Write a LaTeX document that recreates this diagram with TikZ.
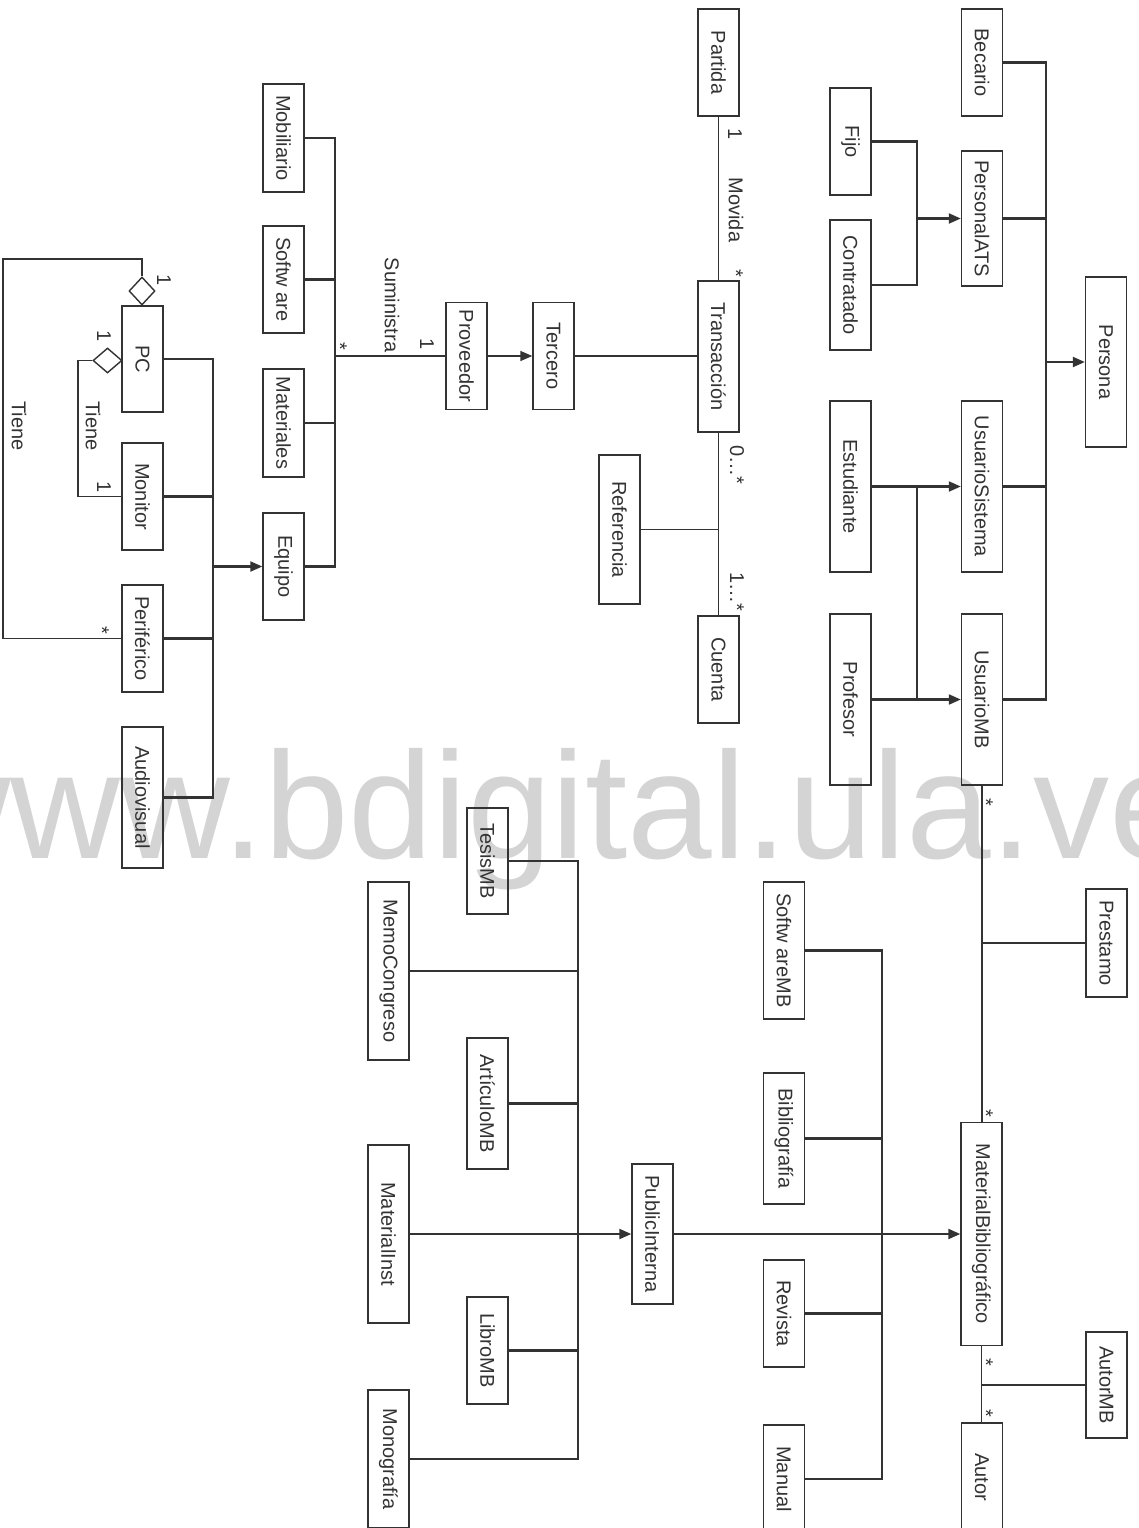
\documentclass[tikz,border=0pt]{standalone}
\usepackage{fontspec}
\setmainfont{Liberation Sans}
\usetikzlibrary{arrows.meta,shapes.geometric}
\definecolor{lc}{HTML}{333333}
\definecolor{wmc}{HTML}{D4D4D4}
\newcommand\mkbox[5]{\node[box,minimum height=#4pt] (#1) at (#2,#3) {\rotatebox{-90}{#5}};}
\newcommand\mklab[4]{\node[lab] (#1) at (#2,#3) {\rotatebox{-90}{#4}};}
\begin{document}
\begin{tikzpicture}[x=1pt,y=-1pt,
  box/.style={draw=lc,line width=1.4pt,minimum width=41pt,inner sep=0pt,text=lc,font=\fontsize{20}{20}\selectfont},
  lab/.style={inner sep=0pt,text=lc,font=\fontsize{20}{20}\selectfont},
  gen/.style={draw=lc,line width=2.1pt},
  assoc/.style={draw=lc,line width=1.5pt},
  tri/.style={-{Triangle[length=12pt,width=10pt]}},
  dia/.style={diamond,draw=lc,line width=1.4pt,inner sep=0pt}]
\useasboundingbox (0,0) rectangle (1139,1528);
% watermark
\node[anchor=base west,inner sep=0pt,text=wmc,font=\fontsize{152}{152}\selectfont] (wm) at (-99,858) {www.bdigital.ula.ve};

% ---- equipment group
\mkbox{mob}{283.5}{138}{108}{Mobiliario}
\mkbox{soft}{283.5}{279.5}{107}{Softw are}
\mkbox{mat}{283.5}{423}{108}{Materiales}
\mkbox{equipo}{283.5}{566.5}{107}{Equipo}
\mkbox{pc}{142.5}{359}{106}{PC}
\mkbox{monitor}{142.5}{496.5}{107}{Monitor}
\mkbox{perif}{142.5}{638.5}{107}{Periférico}
\mkbox{audio}{142.5}{797.5}{141}{Audiovisual}
\mkbox{prov}{466.5}{356}{107}{Proveedor}
\mkbox{tercero}{553.5}{356}{107}{Tercero}
\mkbox{trans}{718.5}{356.5}{151}{Transacción}
\mkbox{partida}{718.5}{62.5}{107}{Partida}
\mkbox{cuenta}{718.5}{669.5}{107}{Cuenta}
\mkbox{refer}{619.5}{529.5}{149}{Referencia}
% ---- person group
\mkbox{becario}{982}{62.5}{107}{Becario}
\mkbox{pats}{982}{218.5}{135}{PersonalATS}
\mkbox{fijo}{850.5}{141.5}{107}{Fijo}
\mkbox{contr}{850.5}{285}{130}{Contratado}
\mkbox{persona}{1106}{362}{170}{Persona}
\mkbox{usis}{982}{486.5}{171}{UsuarioSistema}
\mkbox{umb}{982}{699.5}{171}{UsuarioMB}
\mkbox{estud}{850.5}{486.5}{171}{Estudiante}
\mkbox{prof}{850.5}{699.5}{171}{Profesor}
% ---- material group
\mkbox{prest}{1106.5}{943}{108}{Prestamo}
\mkbox{softmb}{784}{950.5}{137}{Softw areMB}
\mkbox{biblio}{784}{1138.5}{131}{Bibliografía}
\mkbox{revista}{784}{1313.5}{107}{Revista}
\mkbox{manual}{784}{1479}{108}{Manual}
\mkbox{matbib}{981.5}{1234}{223}{MaterialBibliográfico}
\mkbox{autor}{982}{1477}{108}{Autor}
\mkbox{autormb}{1106.5}{1385}{106}{AutorMB}
\mkbox{tesis}{487.5}{861}{106}{TesisMB}
\mkbox{memo}{388.5}{971}{178}{MemoCongreso}
\mkbox{art}{487.5}{1103.5}{131}{ArtículoMB}
\mkbox{matinst}{388.5}{1234}{178}{MaterialInst}
\mkbox{pubint}{652.5}{1234}{140}{PublicInterna}
\mkbox{libro}{487.5}{1350.5}{107}{LibroMB}
\mkbox{mono}{388.5}{1459}{138}{Monografía}

% diamonds
\node[dia,minimum width=26pt,minimum height=28pt] (dA) at (142,291) {};
\node[dia,minimum width=29pt,minimum height=25pt] (dB) at (107.5,360.5) {};

% bus coordinates
\coordinate (busA) at (335,0);
\coordinate (busB) at (213,0);
\coordinate (busP) at (1046,0);
\coordinate (busF) at (917,0);
\coordinate (busM) at (882,0);
\coordinate (busT) at (578,0);
\coordinate (tA) at (3,259);
\coordinate (tB) at (78,360.5);

% equipment generalisation
\draw[gen] (mob.east) -- (mob.east -| busA) -- (equipo.east -| busA) -- (equipo.east);
\draw[gen] (soft.east) -- (soft.east -| busA);
\draw[gen] (mat.east) -- (mat.east -| busA);
\draw[gen] (prov.west) -- (prov.west -| busA);
\draw[gen] (pc.east) -- (pc.east -| busB) -- (audio.east -| busB) -- (audio.east);
\draw[gen] (monitor.east) -- (monitor.east -| busB);
\draw[gen] (perif.east) -- (perif.east -| busB);
\draw[gen,tri] (equipo.west -| busB) -- (equipo.west);
% aggregations
\draw[assoc] (dA.north) |- (tA) |- (perif.west);
\draw[assoc] (dB.west) -- (tB) |- (monitor.west);
% transactions
\draw[assoc,tri] (prov.east) -- (tercero.west);
\draw[assoc] (tercero.east) -- (tercero.east -| trans.west);
\draw[assoc] (partida.south) -- (trans.north);
\draw[assoc] (trans.south) -- (cuenta.north);
\draw[assoc] (refer.east) -- (refer.east -| trans.south);
% persons
\draw[gen] (becario.east) -- (becario.east -| busP) -- (umb.east -| busP) -- (umb.east);
\draw[gen] (pats.east) -- (pats.east -| busP);
\draw[gen] (usis.east) -- (usis.east -| busP);
\draw[gen,tri] (persona.west -| busP) -- (persona.west);
\draw[gen] (fijo.east) -- (fijo.east -| busF) -- (contr.east -| busF) -- (contr.east);
\draw[gen,tri] (pats.west -| busF) -- (pats.west);
\draw[gen,tri] (estud.east) -- (usis.west);
\draw[gen,tri] (prof.east) -- (umb.west);
\draw[gen] (estud.east -| busF) -- (prof.east -| busF);
% loans and authors
\draw[assoc] (umb.south) -- (umb.south |- matbib.north);
\draw[assoc] (prest.west) -- (prest.west -| umb.south);
\draw[assoc] (matbib.south) -- (matbib.south |- autor.north);
\draw[assoc] (autormb.west) -- (autormb.west -| matbib.south);
% material generalisation
\draw[gen] (softmb.east) -- (softmb.east -| busM) -- (manual.east -| busM) -- (manual.east);
\draw[gen] (biblio.east) -- (biblio.east -| busM);
\draw[gen] (revista.east) -- (revista.east -| busM);
\draw[assoc] (pubint.east) -- (matbib.west -| busM);
\draw[gen,tri] (matbib.west -| busM) -- (matbib.west);
\draw[gen] (tesis.east) -- (tesis.east -| busT) -- (mono.east -| busT) -- (mono.east);
\draw[gen] (memo.east) -- (memo.east -| busT);
\draw[gen] (art.east) -- (art.east -| busT);
\draw[gen] (libro.east) -- (libro.east -| busT);
\draw[assoc] (matinst.east) -- (matinst.east -| busT);
\draw[gen,tri] (pubint.west -| busT) -- (pubint.west);

% labels
\mklab{l1}{164}{280}{1}
\mklab{l2}{104}{336}{1}
\mklab{l3}{93}{426}{Tiene}
\mklab{l4}{104}{487}{1}
\mklab{l5}{19}{426}{Tiene}
\mklab{l6}{102}{630}{*}
\mklab{l7}{340}{346}{*}
\mklab{l8}{392}{305}{Suministra}
\mklab{l9}{427}{344}{1}
\mklab{l10}{736}{210}{Movida}
\mklab{l11}{735}{134}{1}
\mklab{l12}{736}{273}{*}
\mklab{l13}{737}{465}{0…*}
\mklab{l14}{737}{592}{1…*}
\mklab{l15}{986}{802}{*}
\mklab{l16}{986}{1113}{*}
\mklab{l17}{986}{1362}{*}
\mklab{l18}{986}{1413}{*}
\end{tikzpicture}
\end{document}
